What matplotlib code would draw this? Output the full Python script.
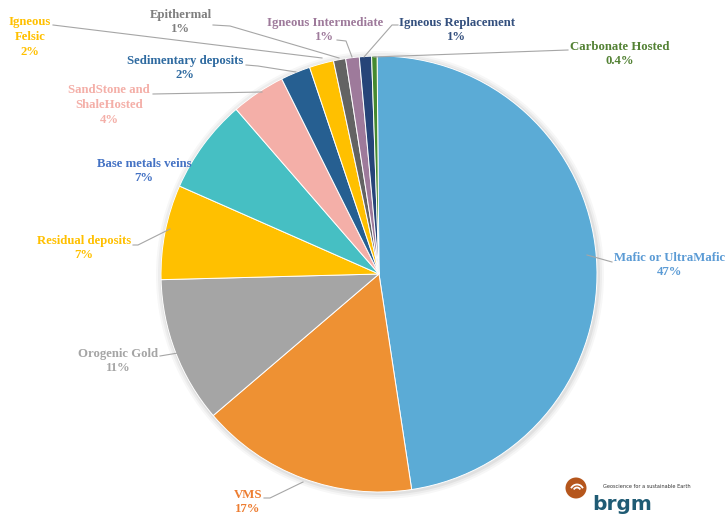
import matplotlib
matplotlib.use("Agg")
import matplotlib.pyplot as plt
from matplotlib.patches import Circle, Arc

# Data (slice sizes; labels as printed)
categories = ["Mafic or UltraMafic", "VMS", "Orogenic Gold", "Residual deposits",
              "Base metals veins", "SandStone and\nShaleHosted", "Sedimentary deposits",
              "Igneous\nFelsic", "Epithermal", "Igneous Intermediate",
              "Igneous Replacement", "Carbonate Hosted"]
values = [47.6, 16.1, 10.8, 7, 7, 4, 2.2, 1.8, 0.9, 1, 0.9, 0.4]
pct_labels = ["47%", "17%", "11%", "7%", "7%", "4%", "2%", "2%", "1%", "1%", "1%", "0.4%"]
slice_colors = ["#5BABD6", "#EE9133", "#A5A5A5", "#FFC000", "#46BFC3", "#F4AFA8",
                "#265F91", "#FFC000", "#636363", "#9E7A9B", "#264478", "#468A2F"]
label_colors = ["#5B9BD5", "#ED7D31", "#A5A5A5", "#FFC000", "#4472C4", "#F4AFA8",
                "#2E6AA0", "#FFC000", "#7F7F7F", "#9E7A9B", "#34507E", "#548235"]

# label centres and leader lines, in pixel coords (y down)
label_pos = [(670, 265), (248, 502), (118, 361), (84, 248), (144, 171), (109, 105),
             (185, 68), (30, 37), (181, 22), (325, 30), (457, 30), (620, 54)]
leaders = [
    [(587, 255), (612, 262)],
    [(303, 482), (270, 498), (264, 498)],
    [(160, 356), (178, 353)],
    [(133, 245), (138, 245), (170, 229)],
    None,
    [(153, 94), (262, 92)],
    [(246, 65), (258, 66), (296, 72)],
    [(53, 25), (322, 58)],
    [(213, 25), (230, 26), (339, 58)],
    [(337, 40), (346, 41), (352, 57)],
    [(398, 25), (392, 25), (364, 57)],
    [(568, 50), (374, 57)],
]

W, H = 728, 521
fig = plt.figure(figsize=(7.28, 5.21), dpi=100)
ax = fig.add_axes([0, 0, 1, 1])

cx, cy, r = 379, H - 274, 218

# soft shadow
for i, a in enumerate([0.05, 0.04, 0.03]):
    ax.add_patch(Circle((cx + 1, cy - 1), r + 2 + i * 2, color="#000000", alpha=a, lw=0, zorder=0))

ax.pie(values, colors=slice_colors, startangle=90.5, counterclock=False,
       center=(cx, cy), radius=r, frame=True,
       wedgeprops=dict(edgecolor="white", linewidth=0.7))
ax.set_xlim(0, W)
ax.set_ylim(0, H)
ax.set_aspect("equal")
ax.axis("off")

for name, pct, col, (x, y), ld in zip(categories, pct_labels, label_colors, label_pos, leaders):
    ax.text(x, H - y, name + "\n" + pct, ha="center", va="center", color=col,
            fontsize=9.2, fontweight="bold", family=["Liberation Serif", "DejaVu Serif"],
            linespacing=1.32, zorder=5)
    if ld:
        ax.plot([p[0] for p in ld], [H - p[1] for p in ld], color="#A6A6A6", lw=0.8, zorder=4)

# brgm logo
ax.add_patch(Circle((576, H - 488), 10.5, color="#B5561C", lw=0, zorder=6))
for rad in [3.5, 6.5]:
    ax.add_patch(Arc((577, H - 491), rad * 2, rad * 2, theta1=25, theta2=155,
                     color="white", lw=1.3, zorder=7))
logo_font = ["DejaVu Sans Condensed", "Liberation Sans Narrow", "DejaVu Sans"]
ax.text(592, H - 504, "brgm", fontsize=14.5, fontweight="bold", color="#1F5B74",
        family=logo_font, va="center", ha="left", zorder=6)
ax.text(603, H - 486, "Geoscience for a sustainable Earth", fontsize=3.6, color="#333333",
        family=logo_font, va="center", ha="left", zorder=6)

fig.savefig("out.png", dpi=100)
